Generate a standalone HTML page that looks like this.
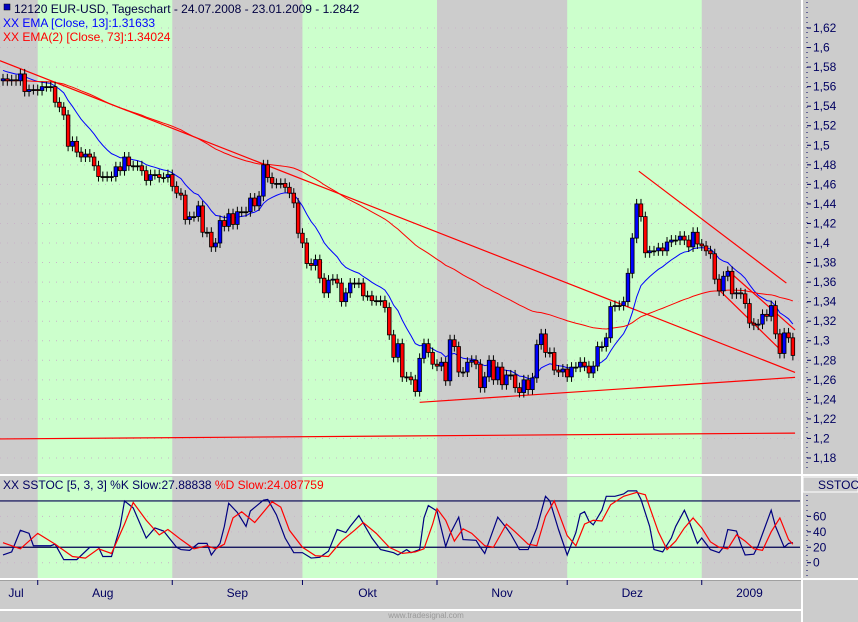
<!DOCTYPE html>
<html><head><meta charset="utf-8"><style>
html,body{margin:0;padding:0;background:#cccccc;}
svg{display:block;font-family:"Liberation Sans",sans-serif;}
</style></head><body>
<svg id="chart" width="858" height="622" viewBox="0 0 858 622" xmlns="http://www.w3.org/2000/svg">
<rect x="0" y="0" width="858" height="622" fill="#cccccc"/>
<g id="bands"></g>
<g id="grid"></g>
<g id="lines"></g>
<g id="candles"></g>
<g id="axes"></g>
<text x="14" y="13" font-size="12" fill="#000040">12120  EUR-USD, Tageschart - 24.07.2008 - 23.01.2009 - 1.2842</text>
<rect x="4" y="4" width="6" height="6" fill="#0000c0" stroke="#000" stroke-width="0.5"/>
<text x="3" y="27" font-size="12" fill="#0000ff">XX EMA [Close, 13]:1.31633</text>
<text x="3" y="41" font-size="12" fill="#ff0000">XX EMA(2) [Close, 73]:1.34024</text>
<text x="3" y="489" font-size="12" fill="#000060">XX SSTOC [5, 3, 3] %K Slow:27.88838 <tspan fill="#ff0000">%D Slow:24.087759</tspan></text>
</svg>
<script>
const closes=[1.568,1.566,1.567,1.566,1.573,1.555,1.557,1.557,1.556,1.560,1.560,1.560,
1.544,1.539,1.531,1.499,1.504,1.493,1.488,1.491,1.488,1.479,
1.468,1.468,1.468,1.468,1.478,1.474,1.488,1.479,1.479,1.479,
1.474,1.464,1.470,1.470,1.467,1.467,1.470,1.458,1.451,1.449,
1.424,1.427,1.427,1.438,1.411,1.411,1.396,1.400,1.423,1.417,
1.430,1.419,1.432,1.432,1.432,1.446,1.438,1.448,1.480,1.467,
1.461,1.461,1.461,1.457,1.451,1.441,
1.410,1.400,1.379,1.377,1.383,1.364,1.349,1.362,1.363,1.359,
1.340,1.349,1.359,1.359,1.359,1.346,1.346,1.341,1.341,1.341,
1.334,1.306,1.283,1.297,1.263,1.263,1.260,1.248,1.282,1.297,
1.288,1.276,1.274,1.278,1.259,1.301,1.294,1.268,1.268,1.278,
1.280,1.276,1.252,1.263,1.280,1.260,1.273,1.255,1.265,1.265,
1.252,1.247,1.260,1.250,1.262,1.296,1.307,1.288,1.288,1.270,
1.268,1.271,1.263,1.273,1.273,1.278,1.274,1.267,1.274,1.294,
1.294,1.303,1.335,1.336,1.336,1.340,1.369,1.405,1.440,1.427,
1.390,1.392,1.392,1.395,1.392,1.401,1.403,1.403,1.407,1.403,
1.396,1.411,1.399,1.397,1.392,1.389,1.363,1.351,1.366,1.371,
1.348,1.349,1.348,1.338,1.318,1.316,1.317,1.327,1.325,1.336,
1.307,1.287,1.308,1.303,1.285];
const firstOpen=1.566;
const priceTicks=[1.62,1.6,1.58,1.56,1.54,1.52,1.5,1.48,1.46,1.44,1.42,1.4,1.38,1.36,1.34,1.32,1.3,1.28,1.26,1.24,1.22,1.2,1.18];
const stochTicks=[60,40,20,0];
const monthLabels=["Jul","Aug","Sep","Okt","Nov","Dez","2009"];
const monthLabelBars=[3,23,54,84,115,145,172];
const monthStartBars=[8,39,69,100,130,161];
const stochKIdx=[0,2,4,6,7,11,12,14,17,20,22,23,25,27,28,30,33,35,37,40,41,43,45,47,48,50,51,52,54,56,57,60,61,63,65,67,69,71,73,75,77,79,80,82,85,87,90,91,93,94,96,97,98,100,102,103,105,106,109,110,111,114,116,117,119,121,123,125,126,128,130,132,133,134,135,136,138,139,141,143,144,146,147,149,150,152,154,155,157,158,160,161,163,165,166,167,169,170,171,173,174,177,178,180,181,182];
const stochKVal=[10,14,42,38,22,22,24,4,4,20,20,8,8,47,80,71,32,45,41,20,17,16,25,25,10,25,47,77,65,47,67,81,82,62,32,13,13,6,7,15,43,39,47,61,32,17,13,10,17,13,17,58,74,67,21,37,59,30,29,20,12,59,45,37,17,17,45,86,80,43,10,39,63,66,54,49,68,86,86,89,93,93,82,47,17,14,32,47,68,55,25,32,17,13,20,43,41,24,10,11,22,68,47,20,25,26];
const stochDIdx=[0,4,8,12,16,19,22,25,28,30,33,36,38,41,44,47,49,51,53,55,58,62,64,66,69,72,75,78,81,83,86,89,92,95,97,99,100,102,104,106,108,111,113,116,118,121,123,125,127,130,132,134,136,138,140,143,146,148,151,153,155,157,159,161,163,165,167,169,171,173,175,177,179,181,182];
const stochDVal=[26,18,38,24,8,6,18,12,50,78,55,36,43,30,18,22,18,24,58,66,52,79,72,42,20,9,8,28,42,52,38,20,12,14,18,50,70,55,28,44,38,22,20,50,40,24,22,60,80,35,22,50,55,54,75,86,91,88,40,17,28,45,58,45,27,20,18,36,28,18,16,40,58,30,24];

const NS="http://www.w3.org/2000/svg";
const X0=3, DX=4.34;
function xs(i){return X0+i*DX;}
function yp(v){return 28+(1.62-v)*977.3;}
function ys(v){return 562.7-v*0.772;}
function mk(tag,attrs,parent){const e=document.createElementNS(NS,tag);for(const k in attrs)e.setAttribute(k,attrs[k]);parent.appendChild(e);return e;}
const bands=document.getElementById('bands'),grid=document.getElementById('grid'),lines=document.getElementById('lines'),cg=document.getElementById('candles'),axes=document.getElementById('axes');

const bandEdges=[0].concat(monthStartBars.map(b=>xs(b))).concat([801]);
for(let k=0;k<bandEdges.length-1;k++){
  if(k%2===1){
    for(const [y0,h] of [[0,474],[477,102]]){
      const r=mk('rect',{x:bandEdges[k],y:y0,width:bandEdges[k+1]-bandEdges[k],height:h,fill:'#ccffcc'},bands);
      
      
    }
  }
}
for(const [x,y,w,h] of [[0,474,858,2],[0,578,858,2],[801,0,2,622],[0,609,803,2]]){
  const r=mk('rect',{x:x,y:y,width:w,height:h,fill:'#ffffff'},axes);
  
  
}
mk('rect',{x:0,y:580,width:801,height:1,fill:'#a0a0a0'},axes);
priceTicks.forEach(v=>{
  const y=yp(v);
  const l=mk('line',{x1:0,x2:800,y1:y,y2:y,stroke:'#c8b4c8','stroke-width':1,'stroke-dasharray':'1,6'},grid);
  
  
  mk('line',{x1:807,x2:811,y1:y,y2:y,stroke:'#000060'},axes);
  const t=mk('text',{x:813,y:y+4,'font-size':12,fill:'#000060'},axes);
  t.textContent=v.toFixed(2).replace('.',',').replace(/0$/,'').replace(/,$/,'');
  
  
});
mk('line',{x1:807,x2:807,y1:2,y2:472,stroke:'#000060','stroke-dasharray':'1,4'},axes);
[60,40,0].forEach(v=>{mk('line',{x1:0,x2:800,y1:ys(v),y2:ys(v),stroke:'#c8b4c8','stroke-dasharray':'1,6'},grid);});
[80,20].forEach(v=>{
  const l=mk('line',{x1:0,x2:800,y1:ys(v),y2:ys(v),stroke:'#000050','stroke-width':1.2},lines);
  
  
});
stochTicks.forEach(v=>{
  mk('line',{x1:807,x2:811,y1:ys(v),y2:ys(v),stroke:'#000060'},axes);
  const t=mk('text',{x:813,y:ys(v)+4,'font-size':12,fill:'#000060'},axes);
  t.textContent=String(v);
  
  
});
mk('line',{x1:807,x2:807,y1:480,y2:576,stroke:'#000060','stroke-dasharray':'1,4'},axes);
const sb=mk('rect',{x:803,y:477,width:55,height:15,fill:'#cccccc',stroke:'#ffffff'},axes);


const st=mk('text',{x:818,y:489,'font-size':12,fill:'#000060'},axes);st.textContent='SSTOC';
monthStartBars.forEach(b=>{mk('line',{x1:xs(b),x2:xs(b),y1:580,y2:585,stroke:'#000060'},axes);});
monthLabels.forEach((m,k)=>{
  const t=mk('text',{x:xs(monthLabelBars[k]),y:597,'font-size':12,fill:'#000060','text-anchor':'middle'},axes);
  t.textContent=m;
  
  
});
const wm=mk('text',{x:426,y:618,'font-size':8,fill:'#999999','text-anchor':'middle'},axes);wm.textContent='www.tradesignal.com';

const trendLines=[[-0.7,1.5865,182.5,1.2676],[96,1.2370,182.5,1.2625],[-0.7,1.1995,182.5,1.2055],[146.5,1.4735,180.5,1.3590],[165,1.3520,180,1.2870],[167,1.3720,182.5,1.3110]];
trendLines.forEach(t=>{
  const l=mk('line',{x1:xs(t[0]),y1:yp(t[1]),x2:xs(t[2]),y2:yp(t[3]),stroke:'#ff0000','stroke-width':1.2},lines);
  
  
});
function ema(n,seed){const a=2/(n+1);let e=seed;return closes.map(c=>(e=e+a*(c-e)));}
const ema13=ema(13,1.578), ema73=ema(73,1.566);
[[ema13,'#0000ff','ema13-line'],[ema73,'#ff0000','ema73-line']].forEach(([s,c,n])=>{
  const p=mk('polyline',{points:s.map((v,i)=>xs(i)+','+yp(v)).join(' '),fill:'none',stroke:c,'stroke-width':1},lines);
  
  
});
closes.forEach((c,i)=>{
  const o=i===0?firstOpen:closes[i-1];
  const x=xs(i);
  const top=yp(Math.max(o,c)), bot=yp(Math.min(o,c));
  mk('line',{x1:x,x2:x,y1:top-5,y2:bot+5,stroke:'#000','stroke-width':1},cg);
  const h=Math.max(bot-top,1);
  const col=c<o?'#ff0000':(c>o?'#0000ff':'#000');
  const r=mk('rect',{x:x-1.8,y:top,width:3.6,height:h,fill:col,stroke:'#000','stroke-width':0.8},cg);
  
  
});
[[stochKIdx,stochKVal,'#000080','stoch-k-line'],[stochDIdx,stochDVal,'#ff0000','stoch-d-line']].forEach(([ix,vv,c,n])=>{
  const p=mk('polyline',{points:ix.map((b,k)=>xs(b)+','+ys(vv[k])).join(' '),fill:'none',stroke:c,'stroke-width':1.2},lines);
  
  
});
</script>
</body></html>
